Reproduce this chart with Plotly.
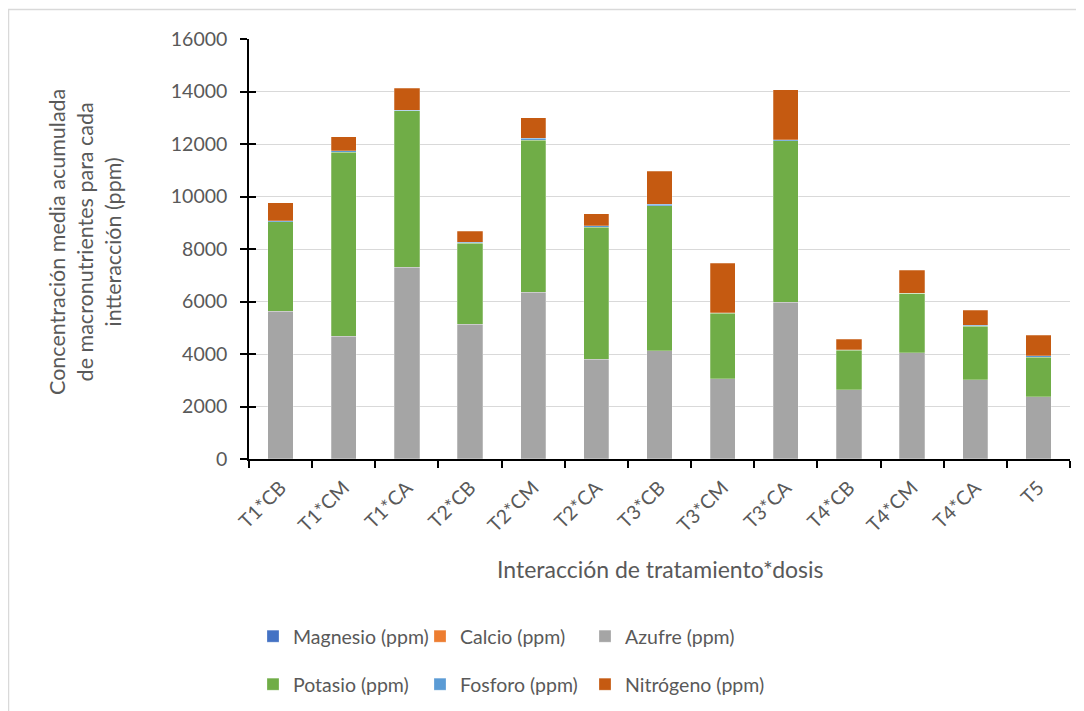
import plotly.graph_objects as go

categorias = ["T1*CB", "T1*CM", "T1*CA", "T2*CB", "T2*CM", "T2*CA", "T3*CB",
              "T3*CM", "T3*CA", "T4*CB", "T4*CM", "T4*CA", "T5"]
magnesio = [2, 2, 2, 2, 2, 2, 2, 2, 2, 2, 2, 2, 2]
calcio = [3, 3, 3, 3, 3, 3, 3, 3, 3, 3, 3, 3, 3]
azufre = [5620, 4670, 7300, 5120, 6350, 3790, 4125, 3060, 5960, 2640, 4050, 3020, 2360]
potasio = [3420, 7010, 5960, 3100, 5790, 5030, 5520, 2480, 6160, 1500, 2250, 2030, 1520]
fosforo = [30, 50, 20, 40, 70, 60, 60, 20, 30, 10, 10, 40, 40]
nitrogeno = [680, 540, 840, 420, 790, 460, 1260, 1890, 1910, 410, 880, 570, 780]

series = [
    ("Magnesio (ppm)", magnesio, "#4472C4"),
    ("Calcio (ppm)", calcio, "#ED7D31"),
    ("Azufre (ppm)", azufre, "#A5A5A5"),
    ("Potasio (ppm)", potasio, "#70AD47"),
    ("Fosforo (ppm)", fosforo, "#5B9BD5"),
    ("Nitrógeno (ppm)", nitrogeno, "#C55A11"),
]

FONT = "Lato, 'Open Sans', sans-serif"
GREY = "#595959"

L, T, W, H = 241, 31, 821, 420
FW, FH = 1084, 711

def px_x(p):
    return (p - L) / W

def px_y(p):
    return (T + H - p) / H

fig = go.Figure()
legend_layout = {}
legend_x = [245, 412, 577]
legend_y = [609, 657]
for i, (name, vals, color) in enumerate(series):
    key = "legend" if i == 0 else f"legend{i + 1}"
    fig.add_trace(go.Bar(
        x=categorias, y=vals, name=name, legend=key,
        marker=dict(color=color, line=dict(color="rgba(255,255,255,0.5)", width=0.5)),
    ))
    legend_layout[key] = dict(
        orientation="h", x=px_x(legend_x[i % 3]), y=px_y(legend_y[i // 3]),
        xanchor="left", yanchor="top", font=dict(size=19.5, color=GREY),
        bgcolor="rgba(0,0,0,0)")

# helper trace so the inner half of the crossing y ticks can be drawn
fig.add_trace(go.Scatter(x=categorias, y=[0] * len(categorias), mode="none", yaxis="y2",
                         showlegend=False, hoverinfo="skip"))

fig.update_layout(
    width=FW, height=FH,
    barmode="stack", bargap=0.6,
    paper_bgcolor="white", plot_bgcolor="white",
    margin=dict(l=L, r=FW - L - W, t=T, b=FH - T - H, autoexpand=False),
    font=dict(family=FONT, color=GREY, size=19),
    xaxis=dict(
        tickangle=-45, ticks="outside", ticklen=7, tickcolor="black", tickwidth=1.5,
        tickson="boundaries", showline=True, linecolor="black", linewidth=1.5,
        tickfont=dict(size=19.5, color=GREY), ticklabelstandoff=8,
    ),
    yaxis=dict(
        range=[0, 16000], dtick=2000, tickformat="d", showgrid=True, gridcolor="#D9D9D9", gridwidth=1.3,
        showline=True, linecolor="black", linewidth=1.5, ticks="outside", ticklen=7, tickwidth=1.5,
        tickcolor="black", tickfont=dict(size=19.5, color=GREY), zeroline=False,
        ticklabelstandoff=9,
    ),
    yaxis2=dict(
        range=[0, 16000], dtick=2000, overlaying="y", side="left", anchor="x",
        showgrid=False, showline=False, zeroline=False, showticklabels=False,
        ticks="inside", ticklen=7, tickwidth=1.5, tickcolor="black",
    ),
    annotations=[
        dict(text="Concentración media acumulada<br>de macronutrientes para cada<br>intteracción (ppm)",
             xref="paper", yref="paper", x=px_x(77), y=px_y(234), xanchor="center", yanchor="middle",
             textangle=-90, showarrow=False, font=dict(size=21.5, color=GREY)),
        dict(text="Interacción de tratamiento*dosis",
             xref="paper", yref="paper", x=px_x(652), y=px_y(561), xanchor="center", yanchor="middle",
             showarrow=False, font=dict(size=23, color=GREY)),
    ],
    shapes=[
        dict(type="line", xref="paper", yref="paper", x0=px_x(0), x1=px_x(FW), y0=px_y(1.5), y1=px_y(1.5),
             line=dict(color="#D9D9D9", width=1.5)),
        dict(type="line", xref="paper", yref="paper", x0=px_x(0.5), x1=px_x(0.5), y0=px_y(1.5), y1=px_y(FH),
             line=dict(color="#D9D9D9", width=1.5)),
    ],
    **legend_layout,
)

fig.write_html("out.html")
